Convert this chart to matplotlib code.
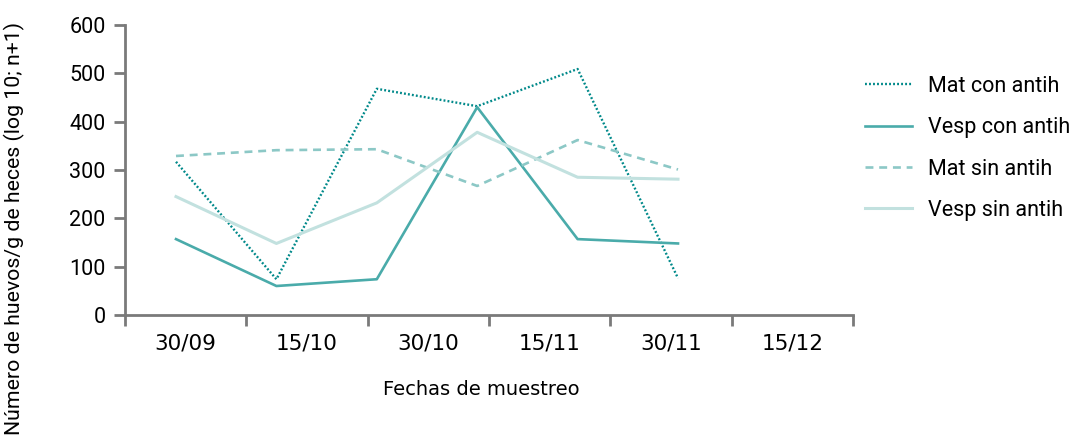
import matplotlib
matplotlib.use('Agg')
import matplotlib.pyplot as plt

# datos
fechas = ['30/09', '15/10', '30/10', '15/11', '30/11', '15/12']
muestreos = [0, 1, 2, 3, 4, 5]
mat_con = [317, 74, 468, 432, 509, 76]
vesp_con = [157, 60, 74, 430, 157, 148]
mat_sin = [329, 341, 343, 267, 362, 301]
vesp_sin = [245, 148, 232, 378, 285, 281]

plt.rcParams['font.family'] = ['Roboto', 'DejaVu Sans']
gris = '#7a7a7a'
estrecha = ['Liberation Sans Narrow', 'DejaVu Sans']

fig = plt.figure(figsize=(10.73, 4.4), dpi=100)
ax = fig.add_axes([125 / 1073, 1 - 315 / 440, 728 / 1073, 290 / 440])

# eje de categorias (fechas)
ax.set_xlim(0, len(fechas))
ax.set_ylim(0, 600)
ax.set_xticks(range(len(fechas) + 1))
ax.set_xticklabels([])
ax.set_xticks([i + 0.5 for i in range(len(fechas))], minor=True)
ax.set_xticklabels(fechas, minor=True, fontsize=15.5, family=estrecha)
ax.tick_params(axis='x', which='minor', length=0, pad=13)
ax.tick_params(axis='x', which='major', length=8, width=2, color=gris)
ax.set_yticks(range(0, 601, 100))
ax.tick_params(axis='y', length=8, width=2, color=gris, labelsize=15.5, pad=6)
for s in ['top', 'right']:
    ax.spines[s].set_visible(False)
for s in ['left', 'bottom']:
    ax.spines[s].set_color(gris)
    ax.spines[s].set_linewidth(2)

ax.set_xlabel('Fechas de muestreo', fontsize=14, family=estrecha)
ax.xaxis.set_label_coords(0.49, -0.225)
fig.text(14 / 1073, 0.48, 'Número de huevos/g de heces (log 10; n+1)',
         rotation=90, va='center', ha='center', fontsize=15.3)

# eje secundario para las series (oculto)
ax2 = ax.twiny()
ax2.set_xlim(-0.508, 6.743)
ax2.set_ylim(0, 600)
ax2.axis('off')
ax2.plot(muestreos, mat_con, color='#00898a', lw=1.7, ls=(0, (0.8, 0.9)), label='Mat con antih')
ax2.plot(muestreos, vesp_con, color='#4aabaa', lw=1.9, label='Vesp con antih')
ax2.plot(muestreos, mat_sin, color='#8cc8c6', lw=1.9, ls=(0, (3, 2.2)), label='Mat sin antih')
ax2.plot(muestreos, vesp_sin, color='#c2e1df', lw=2.2, label='Vesp sin antih')

ax2.legend(loc='upper left', bbox_to_anchor=(856 / 1073, 1 - 67 / 440), bbox_transform=fig.transFigure,
           borderaxespad=0, frameon=False, fontsize=15.5, handlelength=2.2,
           handletextpad=0.75, labelspacing=0.95)

fig.savefig('out.png', dpi=100)
